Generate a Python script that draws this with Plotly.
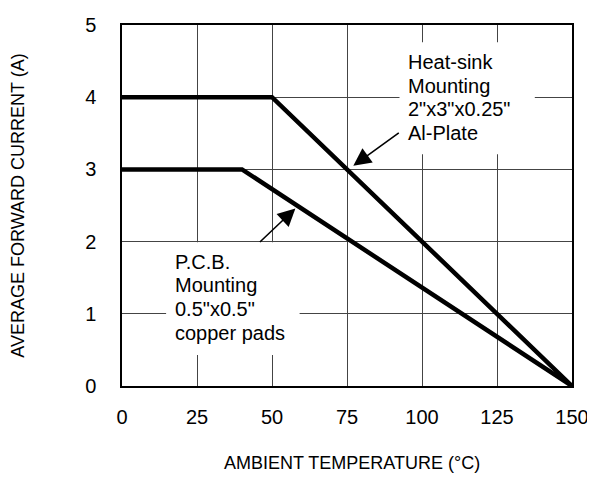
import plotly.graph_objects as go

# Data
heatsink_temp = [0, 50, 150]
heatsink_current = [4, 4, 0]
pcb_temp = [0, 40, 150]
pcb_current = [3, 3, 0]

x_ticks = [0, 25, 50, 75, 100, 125, 150]
y_ticks = [0, 1, 2, 3, 4, 5]

heatsink_label = ["Heat-sink", "Mounting", "2\"x3\"x0.25\"", "Al-Plate"]
pcb_label = ["P.C.B.", "Mounting", "0.5\"x0.5\"", "copper pads"]

FONT = "Liberation Sans, Arial, Helvetica, sans-serif"

fig = go.Figure()
fig.add_trace(go.Scatter(x=heatsink_temp, y=heatsink_current, mode="lines",
                         line=dict(color="black", width=4.5), showlegend=False))
fig.add_trace(go.Scatter(x=pcb_temp, y=pcb_current, mode="lines",
                         line=dict(color="black", width=4.5), showlegend=False))

# white label boxes covering the grid
fig.add_shape(type="rect", x0=92.5, x1=137.6, y0=3.21, y1=4.76, xref="x", yref="y",
              fillcolor="white", line=dict(width=0), layer="above")
fig.add_shape(type="rect", x0=14.7, x1=59.2, y0=0.43, y1=1.99, xref="x", yref="y",
              fillcolor="white", line=dict(width=0), layer="above")

hs_y = [4.49, 4.15, 3.83, 3.50]
for t, yy in zip(heatsink_label, hs_y):
    fig.add_annotation(x=94.8, y=yy, text=t, showarrow=False, xanchor="left", yanchor="middle",
                       font=dict(family=FONT, size=20, color="black"))
pcb_y = [1.72, 1.40, 1.06, 0.74]
for t, yy in zip(pcb_label, pcb_y):
    fig.add_annotation(x=17.0, y=yy, text=t, showarrow=False, xanchor="left", yanchor="middle",
                       font=dict(family=FONT, size=20, color="black"))

# arrows
fig.add_annotation(x=77.1, y=3.05, ax=47, ay=-34, text="", showarrow=True,
                   arrowhead=2, arrowsize=2.2, arrowwidth=1.6, arrowcolor="black")
fig.add_annotation(x=57.8, y=2.46, ax=-37, ay=35, text="", showarrow=True,
                   arrowhead=2, arrowsize=2.2, arrowwidth=1.6, arrowcolor="black")

# axis titles
fig.add_annotation(xref="paper", yref="paper", x=0.512, y=-0.213, text="AMBIENT TEMPERATURE (°C)",
                   showarrow=False, xanchor="center", yanchor="middle",
                   font=dict(family=FONT, size=18, color="black"))
fig.add_annotation(xref="paper", yref="paper", x=-0.233, y=0.5, text="AVERAGE FORWARD CURRENT (A)",
                   showarrow=False, textangle=-90, xanchor="center", yanchor="middle",
                   font=dict(family=FONT, size=18, color="black"))

fig.update_xaxes(range=[0, 150], tickvals=x_ticks, showgrid=True, gridcolor="#444", gridwidth=1,
                 showline=True, linecolor="black", linewidth=1.5, mirror=True, zeroline=False,
                 ticks="", ticklabelstandoff=12, ticklabeloverflow="allow",
                 tickfont=dict(family=FONT, size=20, color="black"))
fig.update_yaxes(range=[0, 5], tickvals=y_ticks, showgrid=True, gridcolor="#444", gridwidth=1,
                 showline=True, linecolor="black", linewidth=1.5, mirror=True, zeroline=False,
                 ticks="", ticklabelstandoff=20, ticklabeloverflow="allow",
                 tickfont=dict(family=FONT, size=20, color="black"))

# page body has an 8px default margin: shrink the figure so the plot lands where the reference's does
fig.update_layout(width=587, height=471, margin=dict(l=114, r=14, t=6, b=93),
                  plot_bgcolor="white", paper_bgcolor="white",
                  font=dict(family=FONT, color="black"))

fig.write_html("out.html")
